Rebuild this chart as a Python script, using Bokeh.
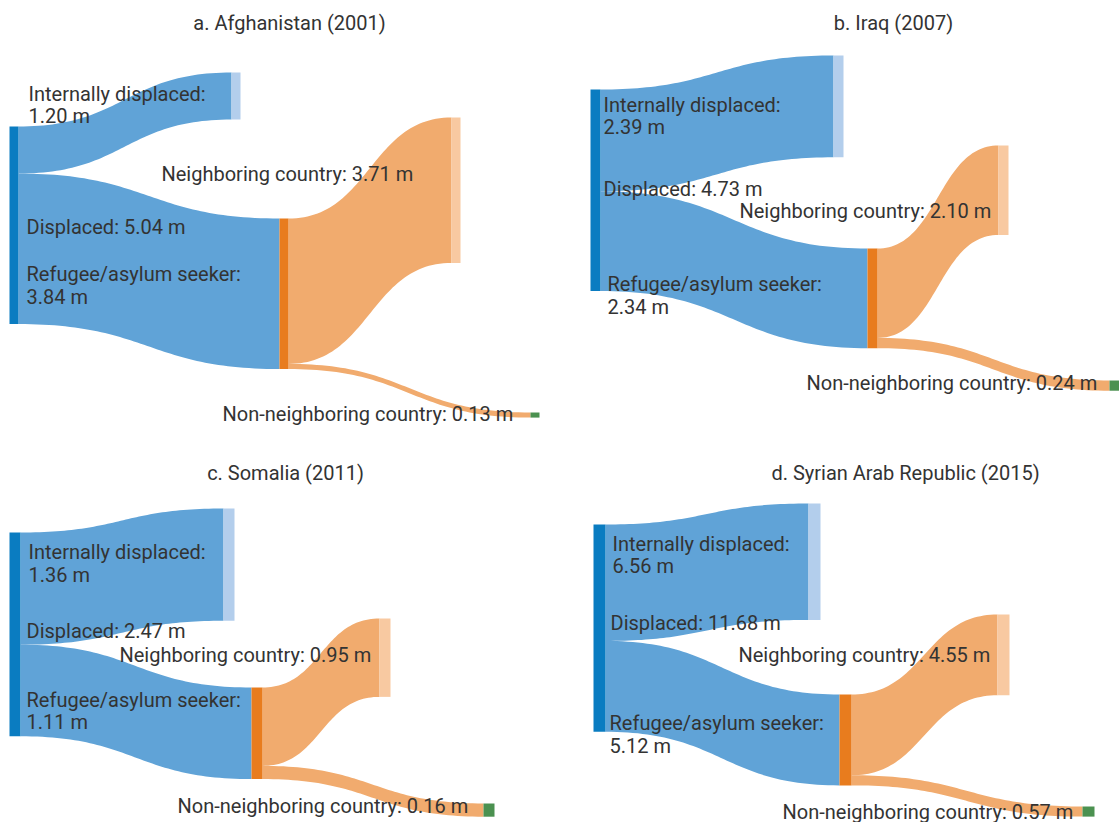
import numpy as np
from bokeh.plotting import figure
from bokeh.models import Range1d
from bokeh.embed import file_html
from bokeh.resources import INLINE
from bokeh.core.properties import value

# ---------------- data (millions of people) ----------------
titles = ["a. Afghanistan (2001)", "b. Iraq (2007)", "c. Somalia (2011)",
          "d. Syrian Arab Republic (2015)"]
displaced = [5.04, 4.73, 2.47, 11.68]
internally_displaced = [1.20, 2.39, 1.36, 6.56]
refugee = [3.84, 2.34, 1.11, 5.12]
neighboring = [3.71, 2.10, 0.95, 4.55]
non_neighboring = [0.13, 0.24, 0.16, 0.57]
node_names = ["Displaced", "Internally displaced", "Refugee/asylum seeker",
              "Neighboring country", "Non-neighboring country"]

# ---------------- layout (pixel space) ----------------
# node order: displaced, internally displaced, refugee, neighboring, non-neighboring
LAYOUT = [
    dict(k=39.2, w=9, x=[9, 231, 279, 451, 530], top=[126, 72, 218, 117, 412],
         title=(289, 22),
         lab=[(26, [226]), (28, [93.5, 115.5]), (26, [273, 296]), (161, [173]), (222, [413])]),
    dict(k=42.6, w=10, x=[590, 833, 867, 998, 1109], top=[89, 55, 248, 145, 380],
         title=(893, 22),
         lab=[(603, [188]), (603, [104, 126]), (607, [283, 306]), (739, [210]), (806, [382])]),
    dict(k=82.5, w=11, x=[9, 223, 251, 379, 483], top=[532, 508, 687, 618, 803],
         title=(285, 472),
         lab=[(26, [630]), (28, [551, 574]), (26, [699, 721]), (119, [654]), (177, [805])]),
    dict(k=17.75, w=12, x=[593, 808, 839, 997, 1082], top=[524, 503, 694, 614, 806],
         title=(905, 472),
         lab=[(610, [622]), (612, [543, 565]), (609, [722, 745]), (738, [654]), (782, [811])]),
]

NODE_COLORS = ["#0a7cc1", "#b3ceec", "#e87c1e", "#f8c9a1", "#4b9150"]
LINK_BLUE = "#60a3d7"
LINK_ORANGE = "#f1ab6e"
TEXT_COLOR = "#333333"
FONT = "Roboto"
FS = "20px"

p = figure(width=1119, height=822, x_range=Range1d(0, 1119), y_range=Range1d(822, 0),
           output_backend="svg", toolbar_location=None, min_border=0)
p.axis.visible = False
p.grid.visible = False
p.outline_line_color = None
p.background_fill_color = "white"
p.border_fill_color = "white"


def link_shape(x0, x1, s_top, s_bot, t_top, t_bot, n=60):
    t = np.linspace(0, 1, n)
    xm = (x0 + x1) / 2.0
    b0 = (1 - t) ** 3
    b1 = 3 * (1 - t) ** 2 * t
    b2 = 3 * (1 - t) * t ** 2
    b3 = t ** 3
    bx = b0 * x0 + (b1 + b2) * xm + b3 * x1
    top_y = (b0 + b1) * s_top + (b2 + b3) * t_top
    bot_y = (b0 + b1) * s_bot + (b2 + b3) * t_bot
    xs = np.concatenate([bx, bx[::-1]])
    ys = np.concatenate([top_y, bot_y[::-1]])
    return list(xs), list(ys)


link_xs, link_ys, link_cols = [], [], []
q_l, q_r, q_t, q_b, q_c = [], [], [], [], []
tx, ty, tt = [], [], []

for i, L in enumerate(LAYOUT):
    vals = [displaced[i], internally_displaced[i], refugee[i], neighboring[i], non_neighboring[i]]
    k, w, X, T = L["k"], L["w"], L["x"], L["top"]
    h = [v * k for v in vals]
    for j in range(5):
        q_l.append(X[j]); q_r.append(X[j] + w)
        q_t.append(T[j]); q_b.append(T[j] + h[j])
        q_c.append(NODE_COLORS[j])
    links = [(0, 1, 0.0, LINK_BLUE),
             (0, 2, h[1], LINK_BLUE),
             (2, 3, 0.0, LINK_ORANGE),
             (2, 4, h[3], LINK_ORANGE)]
    for s, tg, off, col in links:
        hh = h[tg]
        xs, ys = link_shape(X[s] + w, X[tg], T[s] + off, T[s] + off + hh, T[tg], T[tg] + hh)
        link_xs.append(xs); link_ys.append(ys); link_cols.append(col)
    for j in range(5):
        lx, lys = L["lab"][j]
        if len(lys) == 2:
            lines = [f"{node_names[j]}:", f"{vals[j]:.2f} m"]
        else:
            lines = [f"{node_names[j]}: {vals[j]:.2f} m"]
        for ln, yy in zip(lines, lys):
            tx.append(lx); ty.append(yy); tt.append(ln)

p.patches(link_xs, link_ys, fill_color=link_cols, line_color=None)
p.quad(left=q_l, right=q_r, top=q_t, bottom=q_b, fill_color=q_c, line_color=None)
p.text(x=tx, y=ty, text=tt, text_font=value(FONT), text_font_size=FS,
       text_color=TEXT_COLOR, text_align="left", text_baseline="middle")

p.text(x=[L["title"][0] for L in LAYOUT], y=[L["title"][1] for L in LAYOUT], text=titles,
       text_font=value(FONT), text_font_size="20px", text_color=TEXT_COLOR,
       text_align="center", text_baseline="middle")

open("out.html", "w").write(file_html(p, INLINE))
